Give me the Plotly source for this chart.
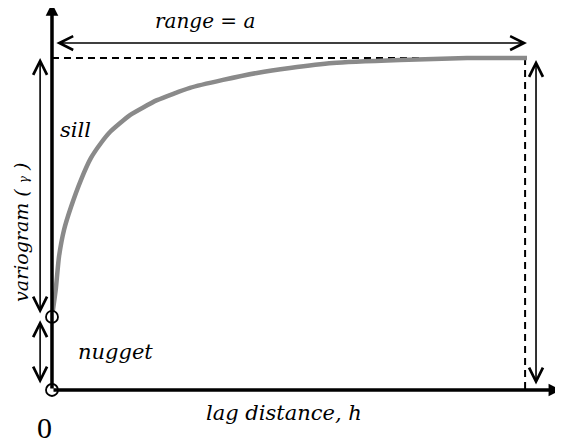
import plotly.graph_objects as go

# variogram (sill normalised to 1, range a = 1)
rangeA = 1.0
sill = 1.0
nugget = 0.22
lag = [0.0, 0.0078, 0.0147, 0.0253, 0.04, 0.0611, 0.0821, 0.1032, 0.1221, 0.1642,
       0.2211, 0.2905, 0.36, 0.4316, 0.5011, 0.5916, 0.7326, 0.8737, 1.0]
gamma = [0.22, 0.301, 0.401, 0.482, 0.551, 0.633, 0.699, 0.744, 0.777, 0.828,
         0.873, 0.91, 0.934, 0.955, 0.97, 0.985, 0.994, 1.0, 1.0]

serif = "DejaVu Serif"
fig = go.Figure()

# dashed guides for sill and range
fig.add_trace(go.Scatter(x=[0, rangeA], y=[sill, sill], mode="lines",
                         line=dict(color="black", width=2, dash="7px,5px"), hoverinfo="skip"))
fig.add_trace(go.Scatter(x=[rangeA * 0.996, rangeA * 0.996], y=[sill, 0], mode="lines",
                         line=dict(color="black", width=2, dash="7px,5px"), hoverinfo="skip"))

# the variogram curve
fig.add_trace(go.Scatter(x=lag, y=gamma, mode="lines",
                         line=dict(color="#8a8a8a", width=4.5, shape="spline", smoothing=0.5),
                         hoverinfo="skip"))

ann = []


def arrow(x0, y0, x1, y1, width=1.6, both=True, head=5, size=1.7):
    ann.append(dict(x=x1, y=y1, ax=x0, ay=y0, xref="x", yref="y", axref="x", ayref="y",
                    text="", showarrow=True, arrowhead=head, arrowsize=size,
                    arrowwidth=width, arrowcolor="black",
                    arrowside="end+start" if both else "end",
                    startarrowhead=head, startarrowsize=size, standoff=0, startstandoff=0))


# axes
arrow(0, 0, 0, 1.165, width=3.5, both=False, head=2, size=0.72)
arrow(0, 0, 1.072, 0, width=3.5, both=False, head=2, size=0.72)

# range, sill, nugget and total arrows
arrow(0.006, 1.045, rangeA, 1.045)
arrow(-0.025, nugget + 0.006, -0.025, sill)
arrow(-0.025, 0.015, -0.025, nugget - 0.01)
arrow(1.019, 0.012, 1.019, 0.994)

# nugget and origin circles
fig.add_trace(go.Scatter(x=[0, 0], y=[0, nugget], mode="markers",
                         marker=dict(size=12, color="white", line=dict(color="black", width=1.8)),
                         hoverinfo="skip"))


def label(x, y, text, size=21, italic=True, angle=0, family=serif):
    ann.append(dict(x=x, y=y, xref="x", yref="y", text=text, showarrow=False, textangle=angle,
                    borderpad=0,
                    font=dict(family=family, size=size, color="black",
                              style="italic" if italic else "normal")))


label(0.322, 1.111, "range = a", size=20)
label(0.05, 0.783, "sill")
label(0.133, 0.114, "nugget")
label(0.488, -0.069, "lag distance, h")
label(-0.0653, 0.476, "variogram ( <span style='font-size:12px'>γ</span> )", size=19, angle=-90)
label(-0.015, -0.114, "0", size=30, italic=False, family="Liberation Serif")

# the page body has an 8px margin, so the figure is 8px smaller and the ranges start there
fig.update_layout(
    width=555, height=437,
    margin=dict(l=0, r=0, t=0, b=0),
    paper_bgcolor="white", plot_bgcolor="white",
    showlegend=False,
    annotations=ann,
    xaxis=dict(range=[-0.0926, 1.0758], visible=False, fixedrange=True),
    yaxis=dict(range=[-0.1657, 1.1506], visible=False, fixedrange=True),
)

fig.write_html("out.html")
